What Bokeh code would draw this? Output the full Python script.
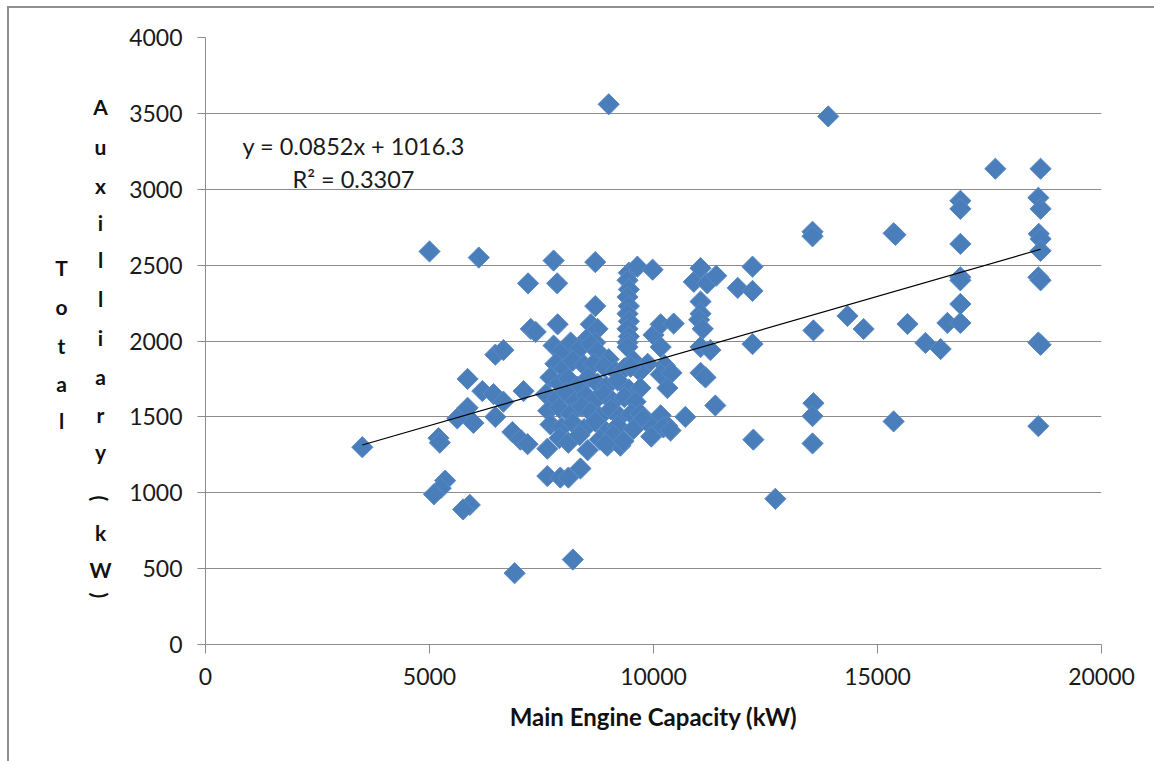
import numpy as np
from bokeh.plotting import figure
from bokeh.layouts import row
from bokeh.models import ColumnDataSource, Range1d, FixedTicker, Label
from bokeh.core.properties import value
from bokeh.embed import file_html
from bokeh.resources import INLINE

# Main engine capacity (kW) vs total auxiliary power (kW), one entry per vessel
engine_kw = [
    3500, 5000, 6100, 5200, 5230, 5350, 5250, 5100, 5900, 5750,
    5620, 5850, 5850, 5980, 6180, 6430, 6470, 6470, 6650, 6650,
    6850, 7030, 7190, 7100, 6900, 8200, 7630, 7920, 8100, 8370,
    7630, 7770, 8700, 7200, 7850, 8700, 7260, 7370, 7860, 9000,
    13900,
    8600, 8750, 8500, 8700,
    9450, 9420, 9450, 9420, 9450, 9420, 9450, 9420, 9450, 9420,
    9640, 9980,
    7770, 7950, 8150, 8350, 8600, 8750, 9000, 9420, 9550, 9870,
    7810, 8000, 8200, 8450, 8660, 8900, 9150, 9350, 9700, 9490,
    7700, 7900, 8100, 8300, 8550, 8750, 8950, 9200, 9450, 9710,
    7600, 7850, 8050, 8250, 8500, 8700, 8900, 9100, 9350, 9600,
    7650, 7900, 8150, 8400, 8600, 8800, 9050, 9250, 9500, 9710,
    7700, 7950, 8200, 8450, 8700, 8950, 9200, 9550, 9780,
    7900, 8100, 8350, 8530, 8800, 8970, 9260, 9100, 9330, 8930,
    10000, 10160, 10160, 10450, 10250, 10160, 10400, 10310, 10710, 11380,
    10160, 9980, 10310, 10220, 10380, 9950,
    10900, 11050, 11200, 11400,
    11050, 11050, 11020, 11100,
    11050, 11270, 11050, 11160,
    12210, 11880, 12210, 12210, 12230, 12720,
    13550, 13550, 13570, 13570, 13550, 13550,
    14330, 14690, 15360, 15400, 15360, 15670,
    16070, 16410, 16560, 16850, 16850, 16850, 16850, 16850, 16850, 16850,
    17630, 18640, 18590, 18640, 18600, 18640, 18640, 18590, 18640, 18590,
    18640, 18590,
]
aux_kw = [
    1300, 2590, 2550, 1360, 1330, 1080, 1030, 990, 920, 890,
    1490, 1560, 1750, 1460, 1670, 1650, 1500, 1910, 1940, 1600,
    1400, 1350, 1320, 1670, 470, 560, 1110, 1100, 1100, 1160,
    1290, 2530, 2520, 2380, 2380, 2230, 2080, 2060, 2110, 3560,
    3480,
    2110, 2080, 2010, 1990,
    2450, 2400, 2340, 2290, 2230, 2180, 2130, 2080, 2030, 1990,
    2490, 2470,
    1970, 1930, 1990, 1950, 1980, 1930, 1880, 1960, 1870, 1850,
    1850, 1820, 1870, 1840, 1850, 1830, 1800, 1820, 1800, 1830,
    1760, 1720, 1750, 1700, 1760, 1720, 1700, 1740, 1680, 1690,
    1650, 1620, 1660, 1600, 1640, 1610, 1650, 1600, 1630, 1600,
    1540, 1560, 1520, 1570, 1530, 1500, 1550, 1500, 1520, 1520,
    1450, 1430, 1460, 1420, 1470, 1400, 1440, 1420, 1490,
    1360, 1330, 1380, 1280, 1350, 1310, 1310, 1380, 1340, 1320,
    2040, 1960, 2110, 2115, 1840, 1780, 1790, 1690, 1500, 1575,
    1510, 1430, 1440, 1430, 1410, 1370,
    2390, 2480, 2380, 2430,
    2260, 2180, 2140, 2080,
    1960, 1940, 1790, 1760,
    2490, 2350, 2330, 1980, 1350, 960,
    2720, 2690, 2070, 1590, 1505, 1325,
    2165, 2079, 2710, 2700, 1470, 2112,
    1987, 1947, 2119, 2119, 2244, 2420, 2400, 2640, 2924, 2871,
    3135, 3135, 2944, 2871, 2706, 2673, 2594, 2420, 2400, 1990,
    1975, 1439,
]

# Linear trend line as stated in the annotation
slope = 0.0852
intercept = 1016.3
r_squared = 0.3307

x_ticks = [0, 5000, 10000, 15000, 20000]
y_ticks = [0, 500, 1000, 1500, 2000, 2500, 3000, 3500, 4000]

# stacked y-axis title, two columns of upright characters
title_col1 = list("Total")
title_col2 = list("Auxilliary(kW)")

FONT = "Lato"
GRID = "#8c8c8c"
TEXT = "#1a1a1a"

H = 753
W_TITLE = 111
W_MAIN = 1145 - W_TITLE
MB_TOP, MB_BOTTOM = 29, 117
FRAME_T, FRAME_B = MB_TOP, H - MB_BOTTOM

# ---- main scatter panel ----
p = figure(
    width=W_MAIN, height=H,
    x_range=Range1d(0, 20000), y_range=Range1d(0, 4000),
    output_backend="svg", toolbar_location=None,
    min_border_left=85, min_border_right=53,
    min_border_top=MB_TOP, min_border_bottom=MB_BOTTOM,
)
p.outline_line_color = None
p.background_fill_color = "white"
p.border_fill_color = "white"

p.xgrid.visible = False
p.ygrid.ticker = FixedTicker(ticks=y_ticks)
p.ygrid.grid_line_color = GRID
p.ygrid.grid_line_width = 1

for ax in (p.xaxis[0], p.yaxis[0]):
    ax.axis_line_color = GRID
    ax.major_tick_line_color = GRID
    ax.minor_tick_line_color = None
    ax.major_tick_in = 0
    ax.major_label_text_font = FONT
    ax.major_label_text_font_size = "23px"
    ax.major_label_text_color = TEXT

p.xaxis.ticker = FixedTicker(ticks=x_ticks)
p.yaxis.ticker = FixedTicker(ticks=y_ticks)
p.xaxis.major_tick_out = 9
p.yaxis.major_tick_out = 8
p.xaxis.major_label_standoff = 14
p.yaxis.major_label_standoff = 15

p.xaxis.axis_label = "Main Engine Capacity (kW)"
p.xaxis.axis_label_text_font = FONT
p.xaxis.axis_label_text_font_size = "24px"
p.xaxis.axis_label_text_font_style = "bold"
p.xaxis.axis_label_text_color = "#111111"
p.xaxis.axis_label_standoff = 14

src = ColumnDataSource(dict(x=engine_kw, y=aux_kw))
p.scatter("x", "y", source=src, marker="square", size=15, angle=np.pi / 4,
          fill_color="#4A7EBB", line_color="#5A8AC6", line_width=1)

tx = [min(engine_kw), max(engine_kw)]
ty = [slope * v + intercept for v in tx]
p.line(tx, ty, line_color="black", line_width=1.2)

# trend-line equation, positioned by pixel offset inside the frame
FRAME_L, FRAME_R = 85, W_MAIN - 53
def sx(px):
    return (px - FRAME_L) * 20000 / (FRAME_R - FRAME_L)
def sy(py):
    return (FRAME_B - py) * 4000 / (FRAME_B - FRAME_T)

p.add_layout(Label(x=sx(122), y=sy(137), text=f"y = {slope}x + {intercept}",
                   text_font=FONT, text_font_size="23.5px", text_color=TEXT,
                   text_baseline="middle", text_align="left"))
p.add_layout(Label(x=sx(172), y=sy(170), text=f"R\u00b2 = {r_squared}",
                   text_font=FONT, text_font_size="23.5px", text_color=TEXT,
                   text_baseline="middle", text_align="left"))

# ---- narrow panel carrying the stacked axis title ----
# its frame lines up with the scatter frame; y runs downward in canvas pixels
t = figure(
    width=W_TITLE, height=H,
    x_range=Range1d(0, W_TITLE), y_range=Range1d(FRAME_B, FRAME_T),
    output_backend="svg", toolbar_location=None,
    x_axis_location=None, y_axis_location=None,
    min_border_left=0, min_border_right=0,
    min_border_top=MB_TOP, min_border_bottom=MB_BOTTOM,
)
t.outline_line_color = None
t.grid.visible = False
t.background_fill_color = "white"
t.border_fill_color = "white"

col1_y = [259, 298, 337, 375, 412]
col2_y = [98, 138, 177, 214, 251, 290, 329, 368, 406, 443, 490, 524, 561, 587]
col_x = [52, 91]

chars = title_col1 + title_col2
xs = [col_x[0]] * len(title_col1) + [col_x[1]] * len(title_col2)
ys = col1_y + col2_y
# parentheses are turned a quarter turn so they read as arcs in the stack
angles = [-np.pi / 2 if c in "()" else 0.0 for c in chars]

tsrc = ColumnDataSource(dict(x=xs, y=ys, text=chars, angle=angles))
t.text("x", "y", text="text", angle="angle", source=tsrc,
       text_font=value(FONT), text_font_size="21px", text_font_style="bold",
       text_color="#111111", text_align="center", text_baseline="middle")

layout = row(t, p, styles={"margin-left": "7px", "margin-top": "6px",
                           "border-left": "2px solid #8f8f8f",
                           "border-top": "2px solid #8f8f8f"})

open("out.html", "w").write(file_html(layout, INLINE))
